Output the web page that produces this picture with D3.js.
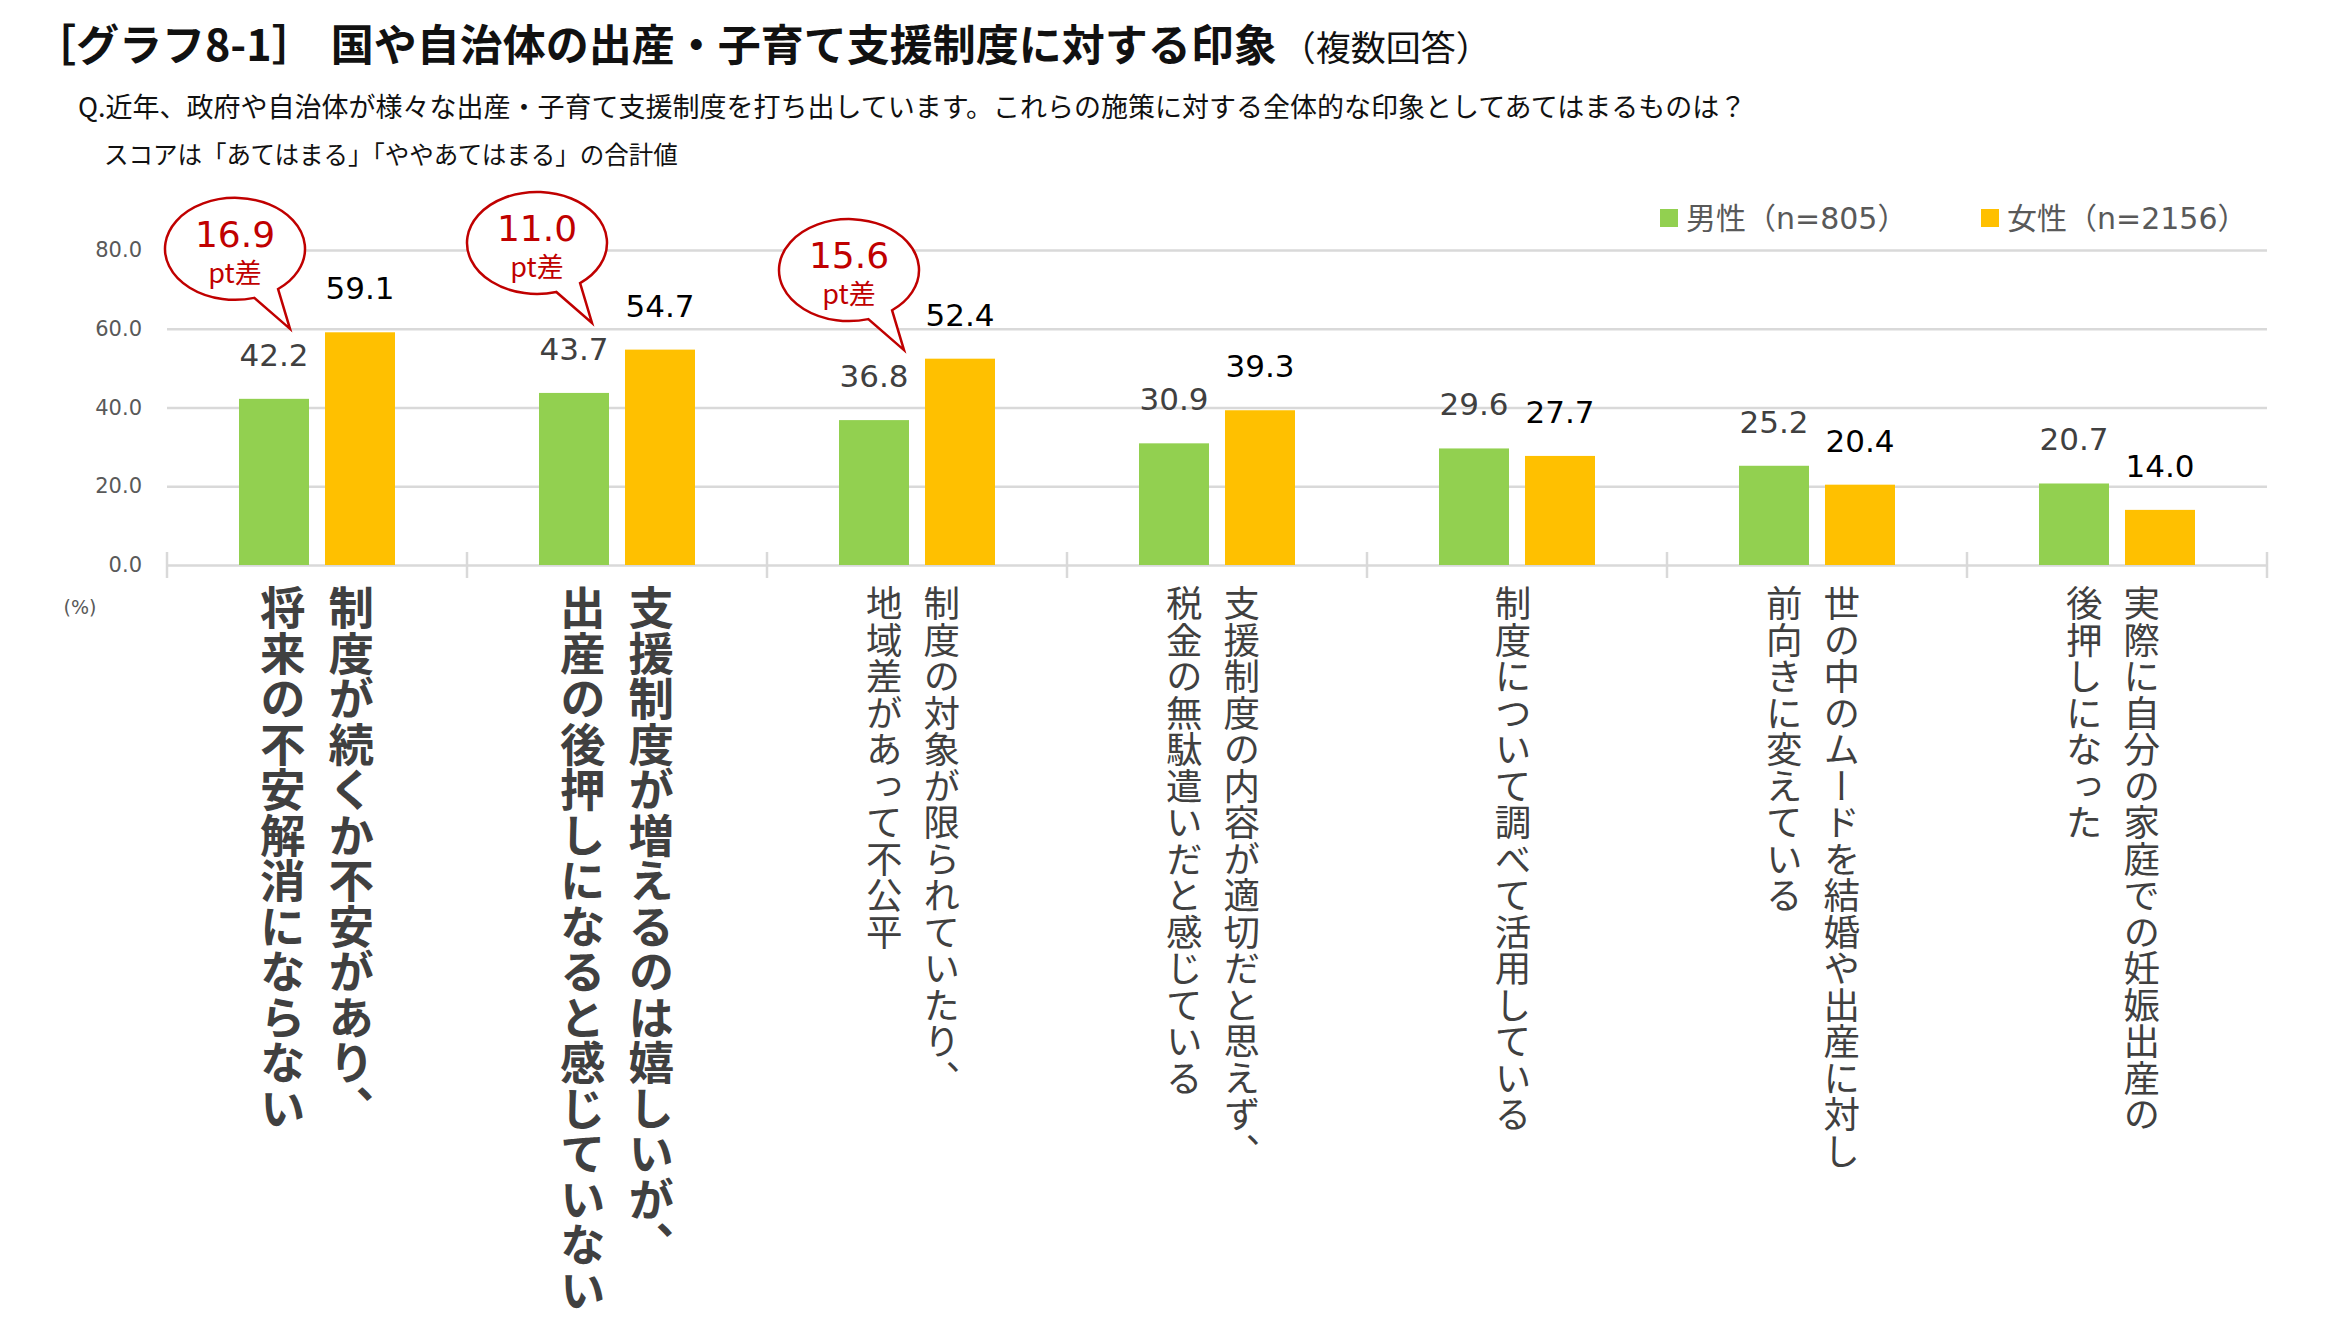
<!DOCTYPE html>
<html><head><meta charset="utf-8">
<script src="https://cdn.jsdelivr.net/npm/d3@7"></script>
<style>
body{margin:0;background:#fff;}
svg{display:block;}
</style></head><body>
<svg id="chart" width="2339" height="1339"></svg>
<script>
// ---------- data ----------
const categories = [
  ["制度が続くか不安があり、","将来の不安解消にならない"],
  ["支援制度が増えるのは嬉しいが、","出産の後押しになると感じていない"],
  ["制度の対象が限られていたり、","地域差があって不公平"],
  ["支援制度の内容が適切だと思えず、","税金の無駄遣いだと感じている"],
  ["制度について調べて活用している"],
  ["世の中のムードを結婚や出産に対し","前向きに変えている"],
  ["実際に自分の家庭での妊娠出産の","後押しになった"]
];
const boldCategories = [true, true, false, false, false, false, false];
const seriesNames = ["男性（n=805）", "女性（n=2156）"];
const maleValues   = [42.2, 43.7, 36.8, 30.9, 29.6, 25.2, 20.7];
const femaleValues = [59.1, 54.7, 52.4, 39.3, 27.7, 20.4, 14.0];
const gapCategories = [0, 1, 2];
const yTicks = [0, 20, 40, 60, 80];
const titleMain = "［グラフ8-1］";
const titleText = "国や自治体の出産・子育て支援制度に対する印象";
const titleNote = "（複数回答）";
const question = "Q.近年、政府や自治体が様々な出産・子育て支援制度を打ち出しています。これらの施策に対する全体的な印象としてあてはまるものは？";
const scoreNote = "スコアは「あてはまる」「ややあてはまる」の合計値";
const unitLabel = "(%)";

// ---------- style ----------
const FONT = '"Noto Sans CJK JP","Noto Sans",sans-serif';
const NUMFONT = '"DejaVu Sans","Noto Sans CJK JP",sans-serif';
const colors = ["#92d050", "#ffc000"];
const labelColors = ["#404040", "#000000"];
const gridColor = "#d9d9d9";
const red = "#c00000";

const svg = d3.select("#chart").attr("font-family", FONT);
const left = 167, right = 2267;

const x0 = d3.scaleBand().domain(d3.range(categories.length)).range([left, right]).padding(0);
const x1 = d3.scaleBand().domain([0, 1]).range([72, 228]).paddingInner(16 / 86).paddingOuter(0);
const y = d3.scaleLinear().domain([0, 80]).range([565, 250]);
const series = [maleValues, femaleValues];

// ---------- titles ----------
const t = svg.append("text").attr("x", 33).attr("y", 61).attr("fill", "#111");
t.append("tspan").attr("font-size", 43).attr("font-weight", "bold").text(titleMain);
t.append("tspan").attr("dx", 16).attr("font-size", 43).attr("font-weight", "bold").text(titleText);
t.append("tspan").attr("dx", 4).attr("font-size", 35).text(titleNote);

svg.append("text").attr("x", 78).attr("y", 117).attr("font-size", 27).attr("fill", "#111").text(question);
svg.append("text").attr("x", 104).attr("y", 164).attr("font-size", 24.5).attr("fill", "#111").text(scoreNote);

// ---------- y axis + gridlines ----------
const yAxis = d3.axisLeft(y).tickValues(yTicks).tickFormat(d3.format(".1f"))
  .tickSize(-(right - left)).tickPadding(25);
const gy = svg.append("g").attr("transform", `translate(${left},0)`).call(yAxis)
  .attr("font-family", NUMFONT).attr("font-size", 21);
gy.select(".domain").remove();
gy.selectAll(".tick line").attr("stroke", gridColor).attr("stroke-width", 2.5);
gy.selectAll(".tick text").attr("fill", "#595959");

// category boundary ticks
const bounds = x0.domain().map(d => x0(d)).concat([right]);
svg.append("g").selectAll("line").data(bounds).join("line")
  .attr("x1", d => d).attr("x2", d => d)
  .attr("y1", y(0) - 13).attr("y2", y(0) + 13)
  .attr("stroke", gridColor).attr("stroke-width", 2.5);

svg.append("text").attr("x", 80).attr("y", 607).attr("text-anchor", "middle")
  .attr("dominant-baseline", "central").attr("font-family", NUMFONT)
  .attr("font-size", 19).attr("fill", "#595959").text(unitLabel);

// ---------- bars ----------
const gBars = svg.append("g");
categories.forEach((c, i) => {
  series.forEach((vals, s) => {
    const bx = x0(i) + x1(s);
    gBars.append("rect")
      .attr("x", bx).attr("y", y(vals[i]))
      .attr("width", x1.bandwidth()).attr("height", y(0) - y(vals[i]))
      .attr("fill", colors[s]);
  });
});

// ---------- data labels ----------
categories.forEach((c, i) => {
  series.forEach((vals, s) => {
    svg.append("text")
      .attr("x", x0(i) + x1(s) + x1.bandwidth() / 2)
      .attr("y", y(vals[i]) - 33)
      .attr("text-anchor", "middle").attr("font-family", NUMFONT).attr("font-size", 31)
      .attr("fill", labelColors[s])
      .text(d3.format(".1f")(vals[i]));
  });
});

// ---------- speech bubbles ----------
const tipDx = [16, 18, 30];
gapCategories.forEach((i, k) => {
  const mx = x0(i) + x1(0) + x1.bandwidth() / 2;
  const tip = [mx + tipDx[k], y(maleValues[i]) - 33 - 37];
  const cx = tip[0] - 55, cy = tip[1] - 80, rx = 70, ry = 51;
  const p = a => [cx + rx * Math.cos(a * Math.PI / 180), cy + ry * Math.sin(a * Math.PI / 180)];
  const a1 = p(52), a2 = p(74);
  const path = `M${a1[0]},${a1[1]} L${tip[0]},${tip[1]} L${a2[0]},${a2[1]} A${rx},${ry} 0 1 1 ${a1[0]},${a1[1]} Z`;
  svg.append("path").attr("d", path).attr("fill", "#fff").attr("stroke", red).attr("stroke-width", 2.5);
  const gap = d3.format(".1f")(femaleValues[i] - maleValues[i]);
  svg.append("text").attr("x", cx).attr("y", cy - 2).attr("text-anchor", "middle")
    .attr("font-family", NUMFONT).attr("font-size", 36).attr("fill", red).text(gap);
  svg.append("text").attr("x", cx).attr("y", cy + 34).attr("text-anchor", "middle")
    .attr("font-size", 27).attr("fill", red).text("pt差");
});

// ---------- legend ----------
const legX = [1660, 1981];
seriesNames.forEach((n, s) => {
  svg.append("rect").attr("x", legX[s]).attr("y", 209).attr("width", 18).attr("height", 18).attr("fill", colors[s]);
  svg.append("text").attr("x", legX[s] + 26).attr("y", 218).attr("dominant-baseline", "central")
    .attr("font-family", NUMFONT)
    .attr("font-size", 30).attr("fill", "#595959").text(n);
});

// ---------- vertical category labels ----------
categories.forEach((cols, i) => {
  const bold = boldCategories[i];
  const fs = bold ? 45.5 : 36.5;
  const sp = bold ? 68.5 : 57.5;
  const cxc = x0(i) + x0.bandwidth() / 2 - (bold ? 0 : 4);
  const n = cols.length;
  cols.forEach((txt, j) => {
    const colX = cxc + (n - 1) / 2 * sp - j * sp;
    svg.append("text")
      .attr("x", colX).attr("y", 585)
      .style("writing-mode", "vertical-rl")
      .attr("font-size", fs).attr("font-weight", bold ? "bold" : "normal")
      .attr("fill", "#404040").text(txt);
  });
});
</script>
</body></html>
